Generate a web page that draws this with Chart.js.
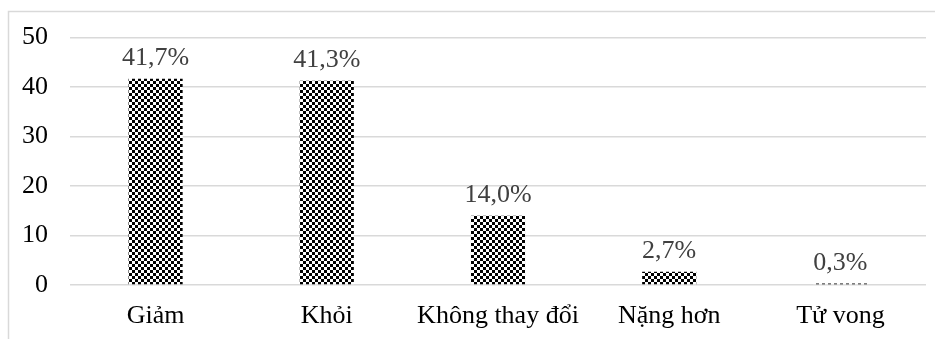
<!DOCTYPE html>
<html>
<head>
<meta charset="utf-8">
<script src="https://cdn.jsdelivr.net/npm/chart.js@4/dist/chart.umd.min.js"></script>
<style>
  html, body { margin: 0; padding: 0; background: #ffffff; }
  #wrap { position: relative; width: 935px; height: 339px; }
</style>
</head>
<body>
<div id="wrap"><canvas id="c" width="935" height="339"></canvas></div>
<script>
// Kết quả điều trị (%)
const categories = ['Giảm', 'Khỏi', 'Không thay đổi', 'Nặng hơn', 'Tử vong'];
const percentages = [41.7, 41.3, 14.0, 2.7, 0.3];
const valueLabels = ['41,7%', '41,3%', '14,0%', '2,7%', '0,3%'];
const yTicks = [0, 10, 20, 30, 40, 50];

const FONT = '"Liberation Serif", "Times New Roman", serif';

// Black-and-white checkerboard fill for the bars
function checkerPattern(cell) {
  const t = document.createElement('canvas');
  t.width = cell * 2; t.height = cell * 2;
  const g = t.getContext('2d');
  g.fillStyle = '#ffffff';
  g.fillRect(0, 0, t.width, t.height);
  g.fillStyle = '#000000';
  g.fillRect(0, 0, cell, cell);
  g.fillRect(cell, cell, cell, cell);
  return g.createPattern(t, 'repeat');
}

// Light frame around the chart
const framePlugin = {
  id: 'frame',
  beforeDraw(chart) {
    const ctx = chart.ctx;
    ctx.save();
    ctx.strokeStyle = '#d9d9d9';
    ctx.lineWidth = 1.5;
    ctx.beginPath();
    ctx.moveTo(8.5, chart.height + 5);
    ctx.lineTo(8.5, 11.5);
    ctx.lineTo(chart.width + 5, 11.5);
    ctx.stroke();
    ctx.restore();
  }
};

// Percentage text above each bar
const valueLabelPlugin = {
  id: 'valueLabels',
  afterDatasetsDraw(chart) {
    const ctx = chart.ctx;
    const meta = chart.getDatasetMeta(0);
    ctx.save();
    ctx.font = '26px ' + FONT;
    ctx.fillStyle = '#404040';
    ctx.textAlign = 'center';
    ctx.textBaseline = 'alphabetic';
    meta.data.forEach((bar, i) => {
      ctx.fillText(valueLabels[i], bar.x, bar.y - 14);
    });
    ctx.restore();
  }
};

new Chart(document.getElementById('c'), {
  type: 'bar',
  data: {
    labels: categories,
    datasets: [{
      data: percentages,
      backgroundColor: checkerPattern(3),
      borderWidth: 0,
      categoryPercentage: 1,
      barPercentage: 0.316
    }]
  },
  options: {
    responsive: false,
    animation: false,
    layout: { padding: { left: 0, top: 37, right: 9, bottom: 0 } },
    plugins: { legend: { display: false }, tooltip: { enabled: false } },
    scales: {
      x: {
        grid: { display: false, drawTicks: false },
        border: { display: false },
        ticks: { color: '#000000', font: { family: FONT, size: 26 }, padding: 16, maxRotation: 0, autoSkip: false },
        afterFit(scale) { scale.height = 54; }
      },
      y: {
        min: 0, max: 50,
        afterBuildTicks(scale) { scale.ticks = yTicks.map(v => ({ value: v })); },
        grid: { color: '#d9d9d9', lineWidth: 1.5, drawTicks: false },
        border: { display: false },
        ticks: { color: '#000000', font: { family: FONT, size: 26 }, padding: 22 },
        afterFit(scale) { scale.width = 70; }
      }
    }
  },
  plugins: [framePlugin, valueLabelPlugin]
});
</script>
</body>
</html>
